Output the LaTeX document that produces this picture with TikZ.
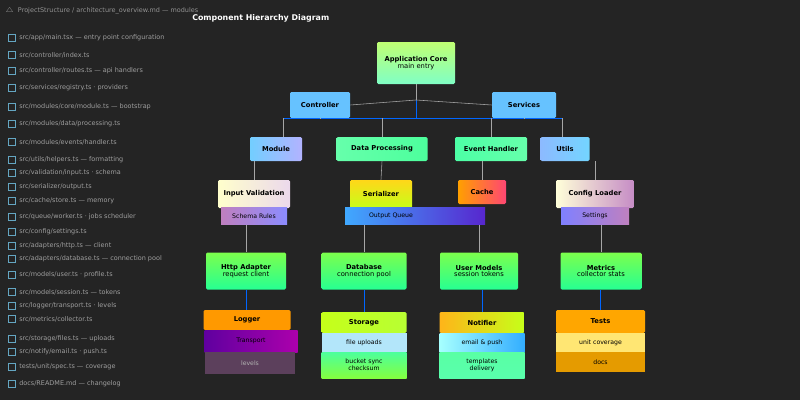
\documentclass[tikz,border=0pt]{standalone}
\usepackage{fontspec}
\setmainfont{DejaVu Sans}
\begin{document}
\begin{tikzpicture}[x=0.25mm,y=-0.25mm,
  box/.style={rounded corners=1pt,inner sep=1pt,align=center,text=black,font=\fontsize{4.8}{5.6}\selectfont\bfseries},
  band/.style={inner sep=0.5pt,align=center,text=black,font=\fontsize{4.4}{5}\selectfont},
  wire/.style={draw=gray!70,line width=0.4pt},
  bwire/.style={draw=blue!60!cyan,line width=0.6pt},
  item/.style={anchor=west,inner sep=0pt,text=gray!75,font=\fontsize{4.6}{5.2}\selectfont},
  ico/.style={draw=cyan!50!gray,line width=0.4pt,minimum size=5pt,inner sep=0pt}
]
\fill[black!86] (0,0) rectangle (800,400);
\useasboundingbox (0,0) rectangle (800,400);

% titles
\node[item,text=gray!85] (t1) at (5,11) {$\triangle$ \ ProjectStructure / architecture\_overview.md — modules};
\node[anchor=west,inner sep=0pt,text=white!90,font=\fontsize{5.6}{6}\selectfont\bfseries] (t2) at (192,18) {Component Hierarchy Diagram};

% left list
\foreach \y/\t [count=\i] in {
38/{src/app/main.tsx — entry point configuration},
55/{src/controller/index.ts},
71/{src/controller/routes.ts — api handlers},
88/{src/services/registry.ts · providers},
107/{src/modules/core/module.ts — bootstrap},
124/{src/modules/data/processing.ts},
142/{src/modules/events/handler.ts},
160/{src/utils/helpers.ts — formatting},
173/{src/validation/input.ts · schema},
187/{src/serializer/output.ts},
201/{src/cache/store.ts — memory},
217/{src/queue/worker.ts · jobs scheduler},
232/{src/config/settings.ts},
246/{src/adapters/http.ts — client},
259/{src/adapters/database.ts — connection pool},
275/{src/models/user.ts · profile.ts},
292/{src/models/session.ts — tokens},
306/{src/logger/transport.ts · levels},
319/{src/metrics/collector.ts},
339/{src/storage/files.ts — uploads},
352/{src/notify/email.ts · push.ts},
367/{tests/unit/spec.ts — coverage},
384/{docs/README.md — changelog}}{
  \node[ico] (ic\i) at (12,\y) {};
  \node[item] (li\i) at (19,\y) {\t};
}

% colours
\colorlet{rootA}{green!45!yellow!55!white}
\colorlet{rootB}{green!45!cyan!50!white}
\colorlet{l2}{blue!40!cyan!60!white}
\colorlet{gr}{green!65!lime!70!white}

% root
\node[box,minimum width=78*0.25mm,minimum height=42*0.25mm,top color=rootA,bottom color=rootB] (root) at (416,63) {Application Core\\[-1pt]{\mdseries main entry}};
% level 2
\node[box,minimum width=60*0.25mm,minimum height=26*0.25mm,fill=l2] (c1) at (320,105) {Controller};
\node[box,minimum width=64*0.25mm,minimum height=26*0.25mm,fill=l2] (c2) at (524,105) {Services};
% level 3
\node[box,minimum width=52*0.25mm,minimum height=24*0.25mm,left color=blue!35!cyan!55!white,right color=blue!30!white] (m1) at (276,149) {Module};
\node[box,minimum width=91*0.25mm,minimum height=24*0.25mm,left color=cyan!45!green!60!white,right color=green!55!cyan!70!white] (m2) at (382,149) {Data Processing};
\node[box,minimum width=72*0.25mm,minimum height=24*0.25mm,left color=green!50!cyan!70!white,right color=cyan!45!green!60!white] (m3) at (491,149) {Event Handler};
\node[box,minimum width=49*0.25mm,minimum height=24*0.25mm,left color=cyan!40!blue!45!white,right color=blue!30!cyan!55!white] (m4) at (565,149) {Utils};

% level 4 (two-band boxes)
\node[box,minimum width=72*0.25mm,minimum height=28*0.25mm,left color=yellow!20!white,right color=violet!15!white] (v1) at (254,194) {Input Validation};
\node[band,minimum width=66*0.25mm,minimum height=17*0.25mm,left color=violet!50!white,right color=blue!45!white] (v1b) at (254,216) {Schema Rules};
\node[box,minimum width=62*0.25mm,minimum height=28*0.25mm,top color=yellow!65!orange!90!white,bottom color=yellow!75!green!90!white] (v2) at (381,194) {Serializer};
\node[box,minimum width=48*0.25mm,minimum height=24*0.25mm,left color=orange!75!yellow,right color=magenta!45!orange] (v3) at (482,192) {Cache};
\node[band,minimum width=140*0.25mm,minimum height=17*0.25mm,left color=cyan!55!blue!75!white,right color=blue!55!violet!85!white] (v2b) at (415,216) {Output Queue\hspace{12mm}};
\node[box,minimum width=78*0.25mm,minimum height=28*0.25mm,left color=yellow!15!white,right color=violet!45!white] (v4) at (595,194) {Config Loader};
\node[band,minimum width=68*0.25mm,minimum height=17*0.25mm,left color=blue!50!white,right color=violet!50!white] (v4b) at (595,216) {Settings};

% level 5
\node[box,minimum width=80*0.25mm,minimum height=37*0.25mm,top color=gr,bottom color=green!50!cyan!85!white] (g1) at (246,271) {Http Adapter\\[-1pt]{\mdseries request client}};
\node[box,minimum width=85*0.25mm,minimum height=37*0.25mm,top color=gr,bottom color=green!50!cyan!85!white] (g2) at (364,271) {Database\\[-1pt]{\mdseries connection pool}};
\node[box,minimum width=78*0.25mm,minimum height=37*0.25mm,top color=gr,bottom color=green!50!cyan!85!white] (g3) at (479,271) {User Models\\[-1pt]{\mdseries session tokens}};
\node[box,minimum width=81*0.25mm,minimum height=37*0.25mm,top color=gr,bottom color=green!50!cyan!85!white] (g4) at (601,271) {Metrics\\[-1pt]{\mdseries collector stats}};

% level 6
\node[box,minimum width=87*0.25mm,minimum height=20*0.25mm,fill=orange!80!yellow] (p1) at (247,320) {Logger};
\node[band,minimum width=93*0.25mm,minimum height=22*0.25mm,left color=violet!75!blue,right color=violet!65!magenta] (p1b) at (251,341) {Transport};
\node[band,minimum width=90*0.25mm,minimum height=22*0.25mm,fill=violet!30!black!75,text=gray!60] (p1c) at (250,363) {levels};

\node[box,minimum width=85*0.25mm,minimum height=21*0.25mm,left color=yellow!75!green!90!white,right color=yellow!65!green!80!white] (p2) at (364,322.5) {Storage};
\node[band,minimum width=85*0.25mm,minimum height=19*0.25mm,fill=cyan!30!white] (p2b) at (364,342.5) {file uploads};
\node[band,minimum width=85*0.25mm,minimum height=26*0.25mm,top color=green!55!cyan!70!white,bottom color=green!65!yellow!75!white] (p2c) at (364,365) {bucket sync\\checksum};

\node[box,minimum width=85*0.25mm,minimum height=21*0.25mm,left color=orange!65!yellow!90!white,right color=yellow!75!green!90!white] (p3) at (482,322.5) {Notifier};
\node[band,minimum width=85*0.25mm,minimum height=19*0.25mm,left color=cyan!35!white,right color=blue!40!cyan!80!white] (p3b) at (482,342.5) {email \& push};
\node[band,minimum width=85*0.25mm,minimum height=26*0.25mm,top color=cyan!45!green!65!white,bottom color=green!50!cyan!65!white] (p3c) at (482,365) {templates\\delivery};

\node[box,minimum width=89*0.25mm,minimum height=23*0.25mm,fill=orange!70!yellow] (p4) at (600.5,321.5) {Tests};
\node[band,minimum width=89*0.25mm,minimum height=19*0.25mm,fill=orange!35!yellow!55!white] (p4b) at (600.5,342.5) {unit coverage};
\node[band,minimum width=89*0.25mm,minimum height=20*0.25mm,fill=orange!65!yellow!90!black] (p4c) at (600.5,362) {docs};

% connectors
\coordinate (j1) at (416,100);
\coordinate (j2) at (416,118);
\draw[wire] (root.south) -- (j2);
\draw[bwire] (j1) -- (j2);
\draw[wire] (c1.east) -- (j1) -- (c2.west);
\coordinate (bl) at (283,118);
\coordinate (br) at (562,118);
\draw[bwire] (bl) -- (br);
\draw[wire] (c1.south) -- (320,118);
\draw[wire] (c2.south) -- (524,118);
\draw[wire] (bl) -- (m1.north -| bl);
\draw[wire] (382,118) -- (m2.north);
\draw[wire] (491,118) -- (m3.north);
\draw[wire] (br) -- (m4.north -| br);

\draw[wire] (m1.south -| v1.north) -- (v1.north);
\draw[wire] (m2.south) -- (v2.north);
\draw[wire] (m3.south -| v3.north) -- (v3.north);
\draw[wire] (m4.south -| v4.north) -- (v4.north);

\draw[wire] (v1b.south -| g1.north) -- (g1.north);
\draw[wire] (v2b.south -| g2.north) -- (g2.north);
\draw[wire] (v2b.south -| g3.north) -- (g3.north);
\draw[wire] (v4b.south -| g4.north) -- (g4.north);

\draw[bwire] (g1.south) -- (g1.south |- p1.north);
\draw[bwire] (g2.south) -- (p2.north);
\draw[bwire] (g3.south -| p3.north) -- (p3.north);
\draw[bwire] (g4.south -| p4.north) -- (p4.north);
\end{tikzpicture}
\end{document}
